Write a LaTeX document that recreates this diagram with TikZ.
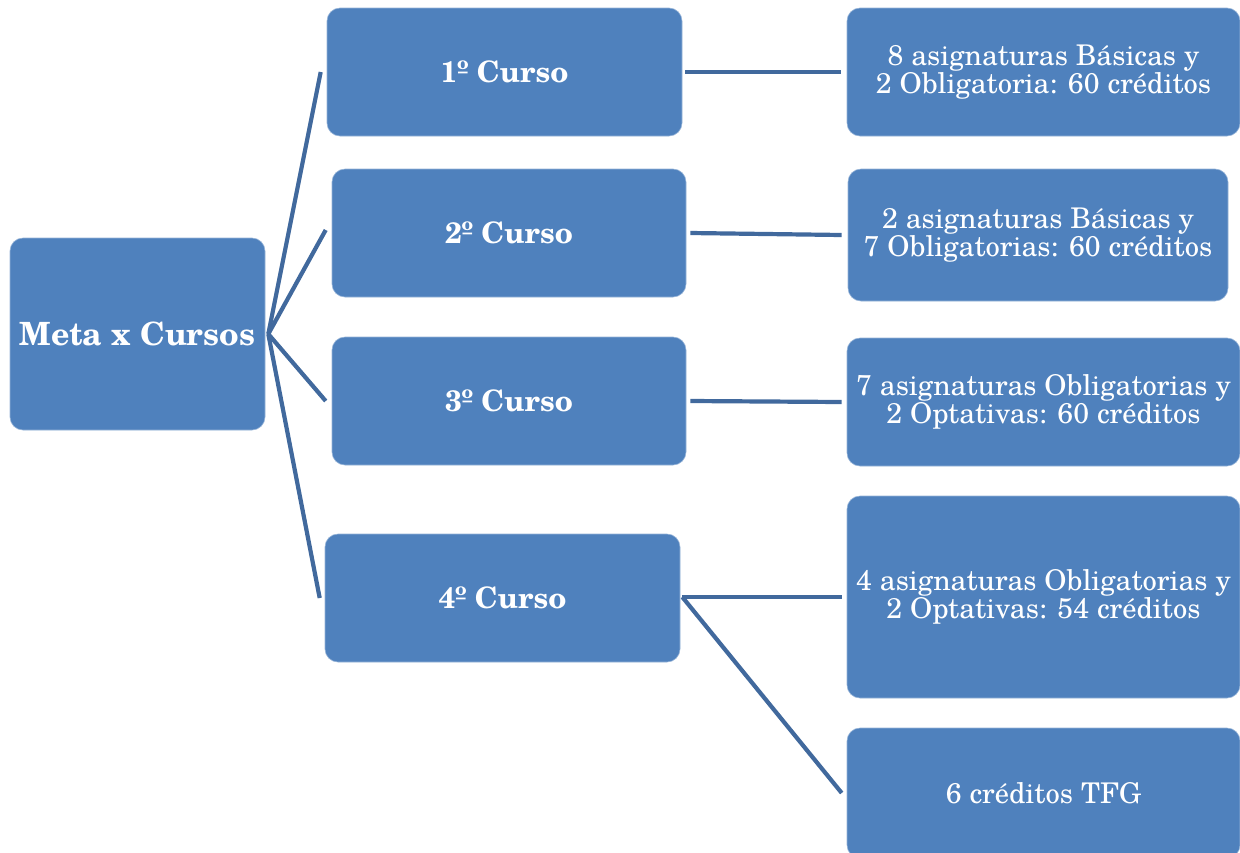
\documentclass[tikz,border=0pt]{standalone}
\usepackage{fontspec}
\setmainfont{texgyreschola}[Extension=.otf, UprightFont=*-regular, BoldFont=*-bold]
\definecolor{boxblue}{HTML}{4F81BD}
\definecolor{linkblue}{HTML}{41699D}
\tikzset{
  box/.style={rectangle, rounded corners=13pt, fill=boxblue, draw=boxblue!60!white, line width=0.6pt, text=white, align=center, inner sep=0pt},
  curso/.style={box, font=\fontsize{29.5}{32}\selectfont\bfseries, minimum width=355pt, minimum height=128pt},
  info/.style={box, font=\fontsize{28.5}{28}\selectfont, minimum width=393pt, minimum height=128pt},
  link/.style={draw=linkblue, line width=4.2pt}
}
\begin{document}
\begin{tikzpicture}[x=1pt,y=-1pt]
\useasboundingbox (0,0) rectangle (1240,852);
\clip (0,0) rectangle (1240,852);
\node[box, font=\fontsize{32}{34}\selectfont\bfseries, minimum width=255pt, minimum height=192pt] (root) at (137.5,334) {Meta x Cursos};
\node[curso] (c1) at (504.5,72) {1º Curso};
\node[curso, minimum width=354pt] (c2) at (509,233) {2º Curso};
\node[curso, minimum width=354pt] (c3) at (509,401) {3º Curso};
\node[curso] (c4) at (502.5,598) {4º Curso};
\node[info] (r1) at (1043.5,72) {8 asignaturas Básicas y\\2 Obligatoria: 60 créditos};
\node[info, minimum width=380pt, minimum height=132pt] (r2) at (1038,235) {2 asignaturas Básicas y\\7 Obligatorias: 60 créditos};
\node[info] (r3) at (1043.5,402) {7 asignaturas Obligatorias y\\2 Optativas: 60 créditos};
\node[info, minimum height=202pt] (r4) at (1043.5,597) {4 asignaturas Obligatorias y\\2 Optativas: 54 créditos};
\node[info, minimum height=130pt] (r5) at (1043.5,793) {6 créditos TFG};
\coordinate (hub) at ([xshift=3pt]root.east);
\draw[link] (hub) -- ([xshift=-6pt]c1.west);
\draw[link] (hub) -- ([xshift=-6pt,yshift=3pt]c2.west);
\draw[link] (hub) -- ([xshift=-6pt]c3.west);
\draw[link] (hub) -- ([xshift=-5pt]c4.west);
\draw[link] ([xshift=3pt]c1.east) -- ([xshift=-6pt]r1.west);
\draw[link] ([xshift=4pt]c2.east) -- ([xshift=-6pt]r2.west);
\draw[link] ([xshift=4pt]c3.east) -- ([xshift=-5pt]r3.west);
\coordinate (hub4) at ([xshift=2pt,yshift=1pt]c4.east);
\draw[link] (hub4) -- ([xshift=-5pt]r4.west);
\draw[link] (hub4) -- ([xshift=-5pt]r5.west);
\end{tikzpicture}
\end{document}
